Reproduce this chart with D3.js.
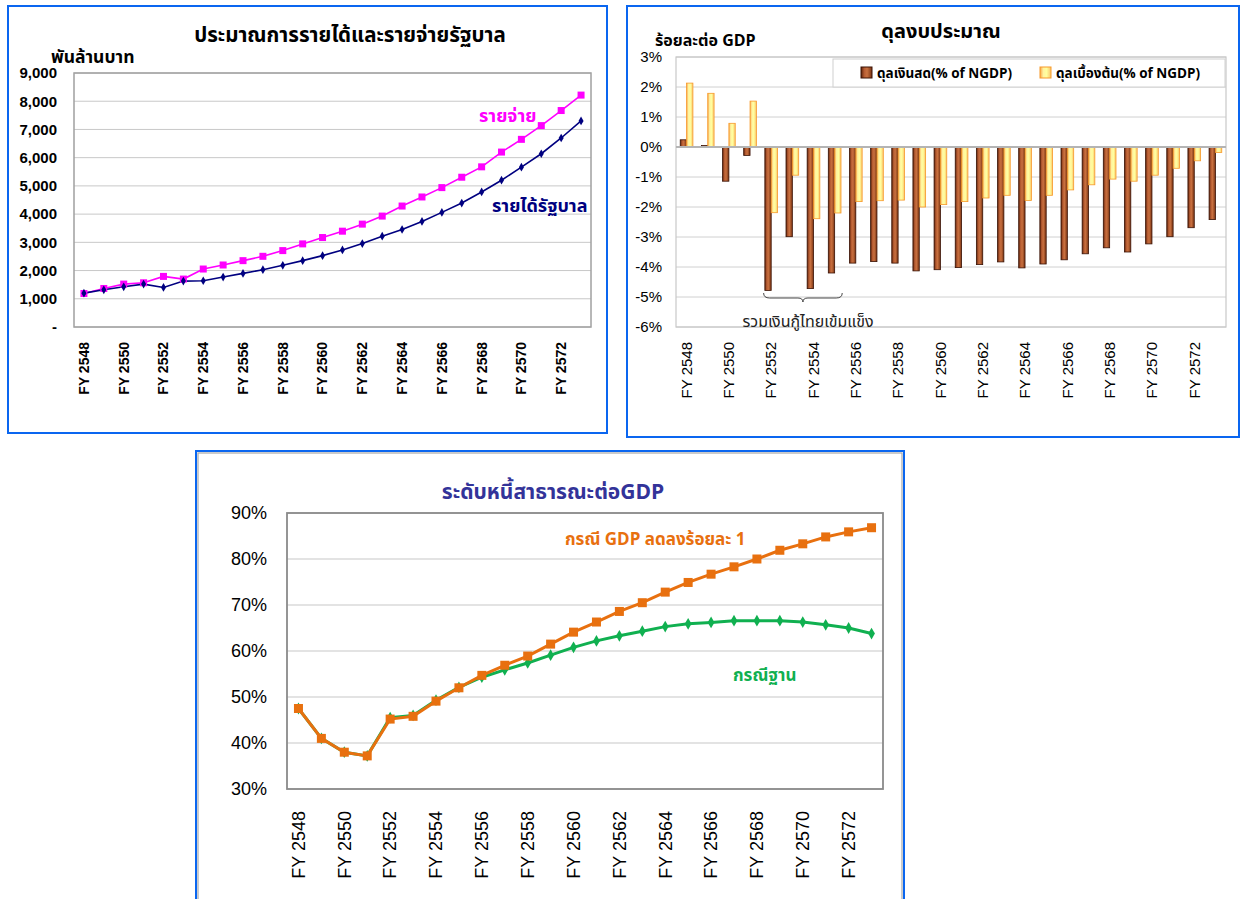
<!DOCTYPE html>
<html>
<head>
<meta charset="utf-8">
<script src="https://cdn.jsdelivr.net/npm/d3@7"></script>
<style>
  body { margin: 0; background: #fff; }
  svg { display: block; font-family: Arial, "Liberation Sans", sans-serif; }
  .th { font-family: Tahoma, "Noto Sans Thai", "Noto Sans Thai UI", Loma, Garuda, "Noto Sans", sans-serif; }
</style>
</head>
<body>
<svg id="chart" width="1244" height="899"></svg>
<script>
// Fiscal years (Thai Buddhist calendar)
const years = [2548, 2549, 2550, 2551, 2552, 2553, 2554, 2555, 2556, 2557, 2558, 2559, 2560,
               2561, 2562, 2563, 2564, 2565, 2566, 2567, 2568, 2569, 2570, 2571, 2572, 2573];
const yearTicks = [2548, 2550, 2552, 2554, 2556, 2558, 2560, 2562, 2564, 2566, 2568, 2570, 2572];

// Government revenue and expenditure (billion baht)
const revenue = [1199, 1318, 1425, 1520, 1401, 1627, 1639, 1769, 1900, 2030, 2185, 2351, 2529,
                 2731, 2957, 3218, 3455, 3740, 4061, 4393, 4785, 5201, 5664, 6139, 6697, 7302];
const expenditure = [1187, 1365, 1520, 1567, 1793, 1698, 2054, 2197, 2351, 2505, 2707, 2945, 3170,
                     3395, 3645, 3930, 4286, 4607, 4939, 5307, 5675, 6198, 6649, 7136, 7670, 8217];
const revenueTicks = [0, 1000, 2000, 3000, 4000, 5000, 6000, 7000, 8000, 9000];

// Budget balance (% of NGDP)
const cashBalance = [0.24, 0.05, -1.14, -0.28, -4.78, -2.99, -4.72, -4.2, -3.87, -3.82, -3.87, -4.13, -4.09,
                     -4.02, -3.92, -3.83, -4.03, -3.9, -3.76, -3.56, -3.36, -3.5, -3.23, -2.99, -2.69, -2.42];
const primaryBalance = [2.13, 1.79, 0.79, 1.53, -2.19, -0.94, -2.39, -2.2, -1.82, -1.79, -1.77, -2.0, -1.92,
                        -1.82, -1.7, -1.61, -1.78, -1.61, -1.43, -1.26, -1.07, -1.14, -0.94, -0.71, -0.46, -0.18];
const balanceTicks = [-6, -5, -4, -3, -2, -1, 0, 1, 2, 3];
const balanceSeries = ["ดุลเงินสด(% of NGDP)", "ดุลเบื้องต้น(% of NGDP)"];

// Public debt to GDP (%)
const debtBase = [47.5, 41.0, 38.0, 37.2, 45.5, 46.0, 49.3, 52.1, 54.3, 55.9, 57.4, 59.1, 60.8,
                  62.2, 63.3, 64.3, 65.3, 65.9, 66.2, 66.6, 66.6, 66.6, 66.3, 65.7, 65.0, 63.8];
const debtLowGdp = [47.5, 41.0, 38.0, 37.2, 45.2, 45.8, 49.1, 52.0, 54.7, 56.9, 58.9, 61.5, 64.1,
                    66.3, 68.6, 70.5, 72.8, 74.9, 76.7, 78.3, 80.0, 81.9, 83.3, 84.8, 85.9, 86.8];
const debtTicks = [30, 40, 50, 60, 70, 80, 90];

const svg = d3.select("#chart");
const defs = svg.append("defs");

function hGradient(id, stops) {
  const g = defs.append("linearGradient").attr("id", id)
    .attr("x1", "0%").attr("x2", "100%").attr("y1", "0%").attr("y2", "0%");
  stops.forEach(([o, c]) => g.append("stop").attr("offset", o).attr("stop-color", c));
}
hGradient("brownGrad", [["0%", "#5e230a"], ["30%", "#b65c32"], ["55%", "#c8703f"], ["100%", "#7a3312"]]);
hGradient("yellowGrad", [["0%", "#f7a54a"], ["30%", "#fff3a0"], ["60%", "#ffff9e"], ["100%", "#f9c46a"]]);

function panel(x, y, w, h) {
  svg.append("rect").attr("x", x).attr("y", y).attr("width", w).attr("height", h)
    .attr("fill", "#fff").attr("stroke", "#0a66f0").attr("stroke-width", 2);
}

function yearAxis(g, x, yPos, opts) {
  const axis = d3.axisBottom(x).tickValues(yearTicks).tickSize(0).tickFormat(d => "FY " + d);
  const a = g.append("g").attr("transform", `translate(0,${yPos})`).call(axis);
  a.select(".domain").remove();
  a.selectAll("text")
    .attr("transform", "rotate(-90)")
    .attr("text-anchor", "end")
    .attr("x", -opts.gap).attr("y", 0).attr("dy", "0.35em")
    .attr("font-size", opts.size).attr("font-weight", opts.weight)
    .attr("font-family", "Arial, 'Liberation Sans', sans-serif")
    .attr("fill", "#000");
}

function valueAxis(g, y, xPos, ticks, fmt, opts) {
  const axis = d3.axisLeft(y).tickValues(ticks).tickSize(0).tickPadding(opts.pad).tickFormat(fmt);
  const a = g.append("g").attr("transform", `translate(${xPos},0)`).call(axis);
  a.select(".domain").remove();
  a.selectAll("text").attr("font-size", opts.size).attr("font-weight", opts.weight)
    .attr("font-family", "Arial, 'Liberation Sans', sans-serif").attr("fill", "#000");
}

function grid(g, y, ticks, x0, x1, color, width) {
  g.append("g").selectAll("line").data(ticks).join("line")
    .attr("x1", x0).attr("x2", x1)
    .attr("y1", d => y(d)).attr("y2", d => y(d))
    .attr("stroke", color).attr("stroke-width", width);
}

/* ---------- Revenue and expenditure ---------- */
{
  panel(8, 6, 599, 427);
  const g = svg.append("g");
  const L = 74, R = 591, T = 73, B = 327;
  const x = d3.scaleBand().domain(years).range([L, R]);
  const y = d3.scaleLinear().domain([0, 9000]).range([B, T]);
  const cx = d => x(d) + x.bandwidth() / 2;

  grid(g, y, revenueTicks, L, R, "#c8c8c8", 1);
  g.append("rect").attr("x", L).attr("y", T).attr("width", R - L).attr("height", B - T)
    .attr("fill", "none").attr("stroke", "#a0a0a0").attr("stroke-width", 1.5);

  valueAxis(g, y, L, revenueTicks, d => d === 0 ? "-" : d3.format(",")(d), { pad: 17, size: 15, weight: "bold" });
  yearAxis(g, x, B, { gap: 15, size: 14, weight: "bold" });

  const line = d3.line().x((d, i) => cx(years[i])).y(d => y(d));
  g.append("path").datum(expenditure).attr("d", line)
    .attr("fill", "none").attr("stroke", "#ff00ff").attr("stroke-width", 1.6);
  g.append("path").datum(revenue).attr("d", line)
    .attr("fill", "none").attr("stroke", "#000080").attr("stroke-width", 1.6);

  g.append("g").selectAll("rect").data(expenditure).join("rect")
    .attr("x", (d, i) => cx(years[i]) - 3.5).attr("y", d => y(d) - 3.5)
    .attr("width", 7).attr("height", 7).attr("fill", "#ff00ff");
  g.append("g").selectAll("path").data(revenue).join("path")
    .attr("d", d3.symbol(d3.symbolDiamond, 22))
    .attr("transform", (d, i) => `translate(${cx(years[i])},${y(d)})`)
    .attr("fill", "#000080");

  g.append("text").attr("class", "th").attr("x", 350).attr("y", 42).attr("text-anchor", "middle")
    .attr("font-size", 20.5).attr("font-weight", "bold").text("ประมาณการรายได้และรายจ่ายรัฐบาล");
  g.append("text").attr("class", "th").attr("x", 51).attr("y", 63)
    .attr("font-size", 17.5).attr("font-weight", "bold").text("พันล้านบาท");
  g.append("text").attr("class", "th").attr("x", 479).attr("y", 122)
    .attr("font-size", 18).attr("font-weight", "bold").attr("fill", "#ff00ff").text("รายจ่าย");
  g.append("text").attr("class", "th").attr("x", 492).attr("y", 212)
    .attr("font-size", 18).attr("font-weight", "bold").attr("fill", "#000080").text("รายได้รัฐบาล");
}

/* ---------- Budget balance ---------- */
{
  panel(627, 6, 612, 431);
  const g = svg.append("g");
  const L = 676, R = 1226, T = 57, B = 327;
  const x = d3.scaleBand().domain(years).range([L, R]);
  const y = d3.scaleLinear().domain([-6, 3]).range([B, T]);
  const bw = x.bandwidth() * 0.3;

  grid(g, y, balanceTicks, L, R, "#d0d0d0", 1);
  g.append("rect").attr("x", L).attr("y", T).attr("width", R - L).attr("height", B - T)
    .attr("fill", "none").attr("stroke", "#c8c8c8").attr("stroke-width", 1.2);

  valueAxis(g, y, L, balanceTicks, d => d + "%", { pad: 14, size: 15, weight: "normal" });
  yearAxis(g, x, B, { gap: 15, size: 15, weight: "normal" });

  const mid = d => x(d) + x.bandwidth() / 2;
  g.append("g").selectAll("rect").data(cashBalance).join("rect")
    .attr("x", (d, i) => mid(years[i]) - bw).attr("width", bw)
    .attr("y", d => y(Math.max(0, d))).attr("height", d => Math.abs(y(d) - y(0)))
    .attr("fill", "url(#brownGrad)").attr("stroke", "#3a1205").attr("stroke-width", 0.8);
  g.append("g").selectAll("rect").data(primaryBalance).join("rect")
    .attr("x", (d, i) => mid(years[i])).attr("width", bw)
    .attr("y", d => y(Math.max(0, d))).attr("height", d => Math.abs(y(d) - y(0)))
    .attr("fill", "url(#yellowGrad)").attr("stroke", "#f79a2a").attr("stroke-width", 0.8);

  // zero line
  g.append("line").attr("x1", L).attr("x2", R).attr("y1", y(0)).attr("y2", y(0))
    .attr("stroke", "#b4b4b4").attr("stroke-width", 2);

  // brace under the stimulus-loan years
  const bx0 = x(2552) + 3, bx1 = x(2555) + x.bandwidth() - 3;
  const bm = (bx0 + bx1) / 2, by = y(-5) - 4;
  g.append("path")
    .attr("d", `M${bx0},${by} Q${bx0},${by + 5} ${bx0 + 6},${by + 5} L${bm - 5},${by + 5} Q${bm},${by + 5} ${bm},${by + 9}
                Q${bm},${by + 5} ${bm + 5},${by + 5} L${bx1 - 6},${by + 5} Q${bx1},${by + 5} ${bx1},${by}`)
    .attr("fill", "none").attr("stroke", "#333").attr("stroke-width", 0.9);
  g.append("text").attr("class", "th").attr("x", 808).attr("y", 327).attr("text-anchor", "middle")
    .attr("font-size", 16).attr("fill", "#222").text("รวมเงินกู้ไทยเข้มแข็ง");

  // legend
  const lg = g.append("g");
  lg.append("rect").attr("x", 833).attr("y", 59).attr("width", 392).attr("height", 28)
    .attr("fill", "#fff").attr("stroke", "#d0d0d0");
  const items = [
    { label: balanceSeries[0], x: 861, fill: "url(#brownGrad)", stroke: "#3a1205" },
    { label: balanceSeries[1], x: 1040, fill: "url(#yellowGrad)", stroke: "#f79a2a" }
  ];
  items.forEach(it => {
    lg.append("rect").attr("x", it.x).attr("y", 67).attr("width", 11).attr("height", 11)
      .attr("fill", it.fill).attr("stroke", it.stroke);
    lg.append("text").attr("class", "th").attr("x", it.x + 16).attr("y", 77.5)
      .attr("font-size", 13.5).attr("font-weight", "bold").text(it.label);
  });

  g.append("text").attr("class", "th").attr("x", 941).attr("y", 38).attr("text-anchor", "middle")
    .attr("font-size", 20).attr("font-weight", "bold").text("ดุลงบประมาณ");
  g.append("text").attr("class", "th").attr("x", 655).attr("y", 46)
    .attr("font-size", 16).attr("font-weight", "bold").text("ร้อยละต่อ GDP");
}

/* ---------- Public debt to GDP ---------- */
{
  panel(196, 451, 708, 470);
  svg.append("rect").attr("x", 198).attr("y", 453).attr("width", 704).attr("height", 466)
    .attr("fill", "none").attr("stroke", "#a8a8a8").attr("stroke-width", 1.2);
  const g = svg.append("g");
  const L = 287, R = 883, T = 513, B = 789;
  const x = d3.scaleBand().domain(years).range([L, R]);
  const y = d3.scaleLinear().domain([30, 90]).range([B, T]);
  const cx = d => x(d) + x.bandwidth() / 2;

  grid(g, y, debtTicks, L, R, "#c8c8c8", 1.2);
  g.append("rect").attr("x", L).attr("y", T).attr("width", R - L).attr("height", B - T)
    .attr("fill", "none").attr("stroke", "#8a8a8a").attr("stroke-width", 1.8);

  valueAxis(g, y, L, debtTicks, d => d + "%", { pad: 20, size: 18, weight: "normal" });
  yearAxis(g, x, B, { gap: 22, size: 18, weight: "normal" });

  const line = d3.line().x((d, i) => cx(years[i])).y(d => y(d));
  g.append("path").datum(debtBase).attr("d", line)
    .attr("fill", "none").attr("stroke", "#10b050").attr("stroke-width", 3);
  g.append("g").selectAll("path").data(debtBase).join("path")
    .attr("d", d3.symbol(d3.symbolDiamond, 40))
    .attr("transform", (d, i) => `translate(${cx(years[i])},${y(d)})`)
    .attr("fill", "#10b050");
  g.append("path").datum(debtLowGdp).attr("d", line)
    .attr("fill", "none").attr("stroke", "#e8700f").attr("stroke-width", 3);
  g.append("g").selectAll("rect").data(debtLowGdp).join("rect")
    .attr("x", (d, i) => cx(years[i]) - 4.5).attr("y", d => y(d) - 4.5)
    .attr("width", 9).attr("height", 9).attr("fill", "#e8700f");

  g.append("text").attr("class", "th").attr("x", 553).attr("y", 499).attr("text-anchor", "middle")
    .attr("font-size", 21).attr("font-weight", "bold").attr("fill", "#333399").text("ระดับหนี้สาธารณะต่อGDP");
  g.append("text").attr("class", "th").attr("x", 565).attr("y", 545)
    .attr("font-size", 17).attr("font-weight", "bold").attr("fill", "#e8700f").text("กรณี GDP ลดลงร้อยละ 1");
  g.append("text").attr("class", "th").attr("x", 733).attr("y", 681)
    .attr("font-size", 17).attr("font-weight", "bold").attr("fill", "#10b050").text("กรณีฐาน");
}
</script>
</body>
</html>
